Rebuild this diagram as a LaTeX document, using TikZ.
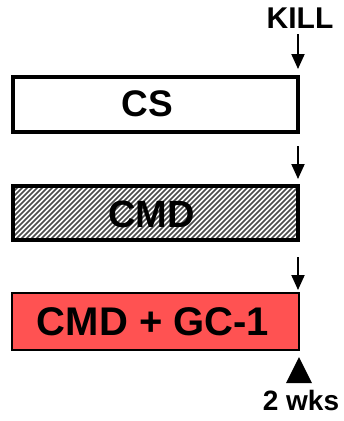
\documentclass[tikz,border=0pt]{standalone}
\usepackage{fontspec}
\setmainfont{Liberation Sans}
\usetikzlibrary{arrows.meta}
\definecolor{boxred}{RGB}{255,82,82}
\tikzset{
  lbl/.style={inner sep=0pt, anchor=base, font=\bfseries},
  arr/.style={line width=2pt, -{Triangle[width=13pt,length=15pt]}},
  boxthick/.style={draw=black, line width=4pt},
}
\begin{document}
\begin{tikzpicture}[x=1pt,y=-1pt]
\useasboundingbox (0,0) rectangle (344,421);
% box 1
\draw[boxthick, fill=white] (13,77) rectangle (298,132);
\node[lbl, font=\bfseries\fontsize{37}{40}\selectfont] (cstext) at (147.5,116) {CS};
% box 2 hatched
\fill[white] (13,186) rectangle (298,240);
\begin{scope}
  \clip (13,186) rectangle (298,240);
  \foreach \i in {-80,-75,...,300} {
    \draw[line width=1.7pt, black!70] (\i,240) -- (\i+60,180);
  }
\end{scope}
\draw[boxthick] (13,186) rectangle (298,240);
\node[lbl, font=\bfseries\fontsize{38}{40}\selectfont] (cmdtext) at (151.5,227) {CMD};
% box 3
\draw[line width=1.5pt, fill=boxred] (12,293) rectangle (299,350);
\node[lbl, font=\bfseries\fontsize{40}{44}\selectfont] (gctext) at (153,335) {CMD + GC-1};
% labels
\node[lbl, font=\bfseries\fontsize{30}{32}\selectfont] (kill) at (300,28) {KILL};
\node[lbl, font=\bfseries\fontsize{28}{30}\selectfont] (wks) at (301,410) {2 wks};
% arrows
\coordinate (a1s) at (298,34);
\coordinate (a1e) at (298,69);
\coordinate (a2s) at (298,146);
\coordinate (a2e) at (298,179);
\coordinate (a3s) at (298,257);
\coordinate (a3e) at (298,290);
\draw[arr] (a1s) -- (a1e);
\draw[arr] (a2s) -- (a2e);
\draw[arr] (a3s) -- (a3e);
% triangle marker
\fill (299,357) -- (312,383) -- (286,383) -- cycle;
\end{tikzpicture}
\end{document}
